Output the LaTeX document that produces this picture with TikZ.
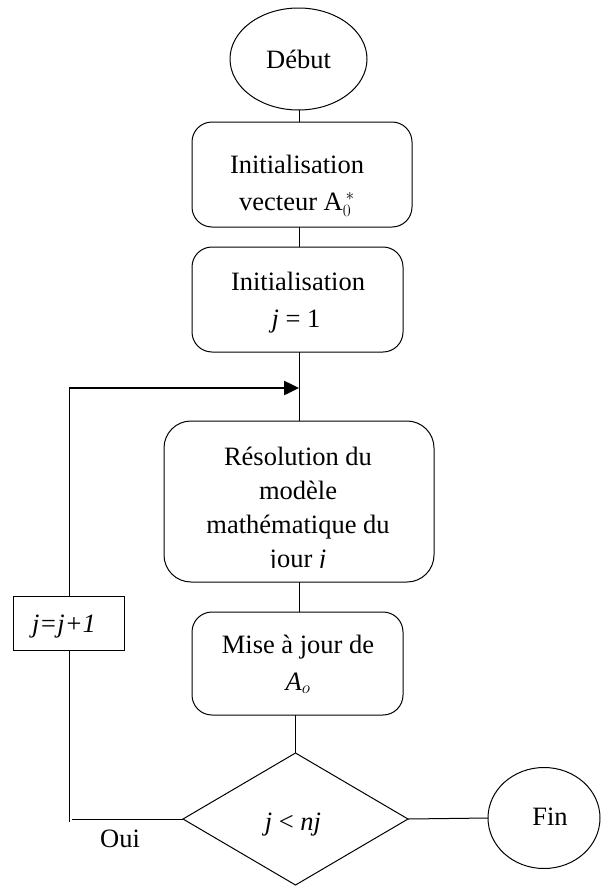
\documentclass[tikz,border=0pt]{standalone}
\usepackage{fontspec}
\setmainfont{Liberation Serif}
\usetikzlibrary{shapes.geometric,arrows.meta}
\begin{document}
\begin{tikzpicture}[x=1pt,y=-1pt,
  every node/.style={font=\fontsize{26.5}{32}\selectfont, inner sep=0pt, outer sep=0pt},
  lbl/.style={anchor=base},
  rbox/.style={draw, line width=1pt, rectangle, rounded corners=20pt},
  oval/.style={draw, line width=1pt, ellipse},
  conn/.style={line width=1pt},
  loopar/.style={line width=2.5pt, -{Triangle[length=15pt,width=14pt]}}]
\useasboundingbox (0,0) rectangle (600,886);
% start
\node[oval, minimum width=137pt, minimum height=102pt] (debut) at (298.5,59) {Début};
% box 1
\node[rbox, minimum width=220pt, minimum height=105pt] (b1) at (302,174.5) {};
\node[lbl] (t1a) at (297,173) {Initialisation};
\node[lbl] (t1b) at (297,210) {vecteur A$_0^{\,*}$};
% box 2
\node[rbox, minimum width=211pt, minimum height=105pt] (b2) at (297.5,299.5) {};
\node[lbl] (t2a) at (298,290) {Initialisation};
\node[lbl] (t2b) at (296,327) {\textit{j} = 1};
% box 3
\node[rbox, rounded corners=27pt, minimum width=270pt, minimum height=161pt] (b3) at (299,501.5) {};
\begin{scope}
\clip (164,421) rectangle (434,567.5);
\node[lbl] (t3a) at (298,465) {Résolution du};
\node[lbl] (t3b) at (298,499) {modèle};
\node[lbl] (t3c) at (298,533) {mathématique du};
\node[lbl] (t3d) at (298,567.5) {jour \textit{j}};
\end{scope}
% box 4
\node[rbox, minimum width=211pt, minimum height=103pt] (b4) at (297.5,663.5) {};
\node[lbl] (t4a) at (298,653) {Mise à jour de};
\node[lbl] (t4b) at (298,690) {\textit{A$_o$}};
% decision
\node[draw, line width=1pt, diamond, minimum width=225pt, minimum height=132pt] (dia) at (295.5,819) {};
\node[lbl] (t5) at (293,830) {\textit{j} < \textit{nj}};
% end
\node[oval, minimum width=112pt, minimum height=101pt] (fin) at (544,818) {};
\node[lbl] (t6) at (550,825) {Fin};
% increment box
\node[draw, line width=1pt, rectangle, minimum width=111pt, minimum height=54pt] (jb) at (68.5,623) {};
\node[lbl] (t7) at (64,632) {\textit{j=j+1}};
\node[lbl] (oui) at (120,847) {Oui};
% axis and loop coordinates
\coordinate (ax) at (299,0);
\coordinate (ltop) at (69,388);
\coordinate (ltip) at (299,388);
\coordinate (lbot) at (69,822);
\coordinate (lend) at (72,822);
% connectors
\draw[conn] (debut.south -| ax) -- (b1.north -| ax);
\draw[conn] (b1.south -| ax) -- (b2.north -| ax);
\draw[conn] (b2.south -| ax) -- (b3.north -| ax);
\draw[conn] (b3.south -| ax) -- (b4.north -| ax);
\draw[conn] (b4.south -| dia.north) -- (dia.north);
\draw[conn] (dia.east) -- (fin.west);
\draw[conn] (dia.west) -- (dia.west -| lend);
\draw[conn] (jb.south -| lbot) -- (lbot);
\draw[conn] (jb.north -| ltop) -- (ltop);
\draw[loopar] (ltop) -- (ltip);
\end{tikzpicture}
\end{document}
